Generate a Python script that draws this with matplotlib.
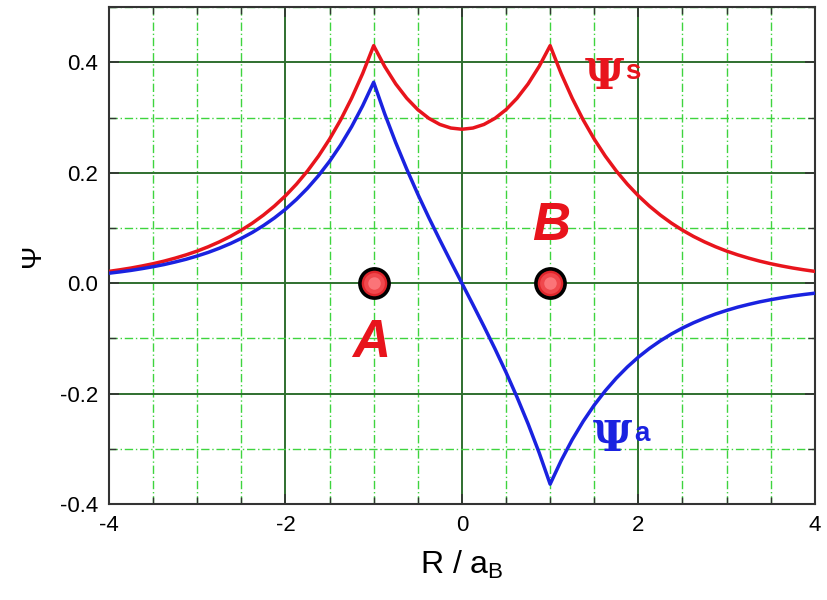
import matplotlib
matplotlib.use("Agg")
import matplotlib.pyplot as plt
from matplotlib.ticker import MultipleLocator

# Data (R / a_B, step 0.125)
R = [-4.0, -3.875, -3.75, -3.625, -3.5, -3.375, -3.25, -3.125, -3.0, -2.875, -2.75,
     -2.625, -2.5, -2.375, -2.25, -2.125, -2.0, -1.875, -1.75, -1.625, -1.5, -1.375,
     -1.25, -1.125, -1.0, -0.875, -0.75, -0.625, -0.5, -0.375, -0.25, -0.125, 0.0,
     0.125, 0.25, 0.375, 0.5, 0.625, 0.75, 0.875, 1.0, 1.125, 1.25, 1.375, 1.5,
     1.625, 1.75, 1.875, 2.0, 2.125, 2.25, 2.375, 2.5, 2.625, 2.75, 2.875, 3.0,
     3.125, 3.25, 3.375, 3.5, 3.625, 3.75, 3.875, 4.0]
psi_s = [0.0214, 0.0243, 0.0275, 0.0312, 0.0353, 0.0400, 0.0454, 0.0514, 0.0582,
         0.0660, 0.0748, 0.0847, 0.0960, 0.1088, 0.1233, 0.1397, 0.1583, 0.1794,
         0.2033, 0.2303, 0.2610, 0.2957, 0.3351, 0.3797, 0.4303, 0.3926, 0.3610,
         0.3351, 0.3144, 0.2987, 0.2876, 0.2811, 0.2789,
         0.2811, 0.2876, 0.2987, 0.3144, 0.3351, 0.3610, 0.3926, 0.4303, 0.3797,
         0.3351, 0.2957, 0.2610, 0.2303, 0.2033, 0.1794, 0.1583, 0.1397, 0.1233,
         0.1088, 0.0960, 0.0847, 0.0748, 0.0660, 0.0582, 0.0514, 0.0454, 0.0400,
         0.0353, 0.0312, 0.0275, 0.0243, 0.0214]
psi_a = [0.0181, 0.0205, 0.0232, 0.0264, 0.0299, 0.0338, 0.0384, 0.0434, 0.0493,
         0.0558, 0.0633, 0.0717, 0.0812, 0.0920, 0.1043, 0.1182, 0.1339, 0.1518,
         0.1720, 0.1949, 0.2208, 0.2502, 0.2835, 0.3213, 0.3640, 0.3069, 0.2547,
         0.2065, 0.1614, 0.1189, 0.0783, 0.0388, 0.0,
         -0.0388, -0.0783, -0.1189, -0.1614, -0.2065, -0.2547, -0.3069, -0.3640,
         -0.3213, -0.2835, -0.2502, -0.2208, -0.1949, -0.1720, -0.1518, -0.1339,
         -0.1182, -0.1043, -0.0920, -0.0812, -0.0717, -0.0633, -0.0558, -0.0493,
         -0.0434, -0.0384, -0.0338, -0.0299, -0.0264, -0.0232, -0.0205, -0.0181]
nuclei_x = [-1.0, 1.0]
nuclei_y = [0.0, 0.0]
nuclei_labels = ["A", "B"]
xticks = [-4, -2, 0, 2, 4]
yticks = [-0.4, -0.2, 0.0, 0.2, 0.4]

plt.rcParams['font.family'] = ['Liberation Sans', 'DejaVu Sans']

fig = plt.figure(figsize=(8.28, 6.0), dpi=100)
ax = fig.add_axes([0.1316, 0.16, 0.8525, 0.828])

RED = '#e8141c'
BLUE = '#1a22e0'

ax.set_xlim(-4, 4)
ax.set_ylim(-0.4, 0.5)
ax.set_xticks(xticks)
ax.set_yticks(yticks)
ax.set_xticklabels([f"{t:d}" for t in xticks])
ax.set_yticklabels([f"{t:.1f}" for t in yticks])
ax.xaxis.set_minor_locator(MultipleLocator(0.5))
ax.yaxis.set_minor_locator(MultipleLocator(0.1))

ax.grid(which='minor', color='#3ed43e', linestyle=(0, (6, 2, 1, 2)), linewidth=1.0)
ax.grid(which='major', color='#2f6f2f', linestyle='-', linewidth=1.4)
ax.set_axisbelow(True)

ax.tick_params(which='both', direction='in', top=True, right=True,
               labelsize=16, color='#333333', pad=8)
ax.tick_params(which='major', length=7, width=1.2)
ax.tick_params(which='minor', length=5, width=1.0)
for s in ax.spines.values():
    s.set_color('#333333')
    s.set_linewidth(1.5)

ax.plot(R, psi_s, color=RED, linewidth=2.5, zorder=3)
ax.plot(R, psi_a, color=BLUE, linewidth=2.5, zorder=3)

# nuclei (shaded spheres)
ax.plot(nuclei_x, nuclei_y, 'o', markersize=21, markerfacecolor='#e0262c',
        markeredgecolor='black', markeredgewidth=2.6, zorder=5, linestyle='none')
ax.plot(nuclei_x, nuclei_y, 'o', markersize=15, markerfacecolor='#f0484d',
        markeredgewidth=0, zorder=6, linestyle='none')
ax.plot(nuclei_x, nuclei_y, 'o', markersize=9, markerfacecolor='#fb7478',
        markeredgewidth=0, zorder=7, linestyle='none')

ax.text(-1.03, -0.109, nuclei_labels[0], color=RED, fontsize=38, fontweight='bold',
        fontstyle='italic', ha='center', va='center', zorder=8)
ax.text(1.01, 0.103, nuclei_labels[1], color=RED, fontsize=38, fontweight='bold',
        fontstyle='italic', ha='center', va='center', zorder=8)

# curve labels
serif = ['DejaVu Serif']
ax.text(1.62, 0.374, "Ψ", color=RED, fontsize=31, fontweight='bold',
        family=serif, ha='center', va='center', zorder=8)
ax.text(1.94, 0.382, "s", color=RED, fontsize=20, fontweight='bold',
        ha='center', va='center', zorder=8)
ax.text(1.71, -0.282, "Ψ", color=BLUE, fontsize=31, fontweight='bold',
        family=serif, ha='center', va='center', zorder=8)
ax.text(2.04, -0.273, "a", color=BLUE, fontsize=20, fontweight='bold',
        ha='center', va='center', zorder=8)

ax.set_xlabel(r"R / a$_\mathregular{B}$", fontsize=23, labelpad=9)
ax.set_ylabel("Ψ", fontsize=20, labelpad=10)

fig.savefig("out.png", dpi=100)
